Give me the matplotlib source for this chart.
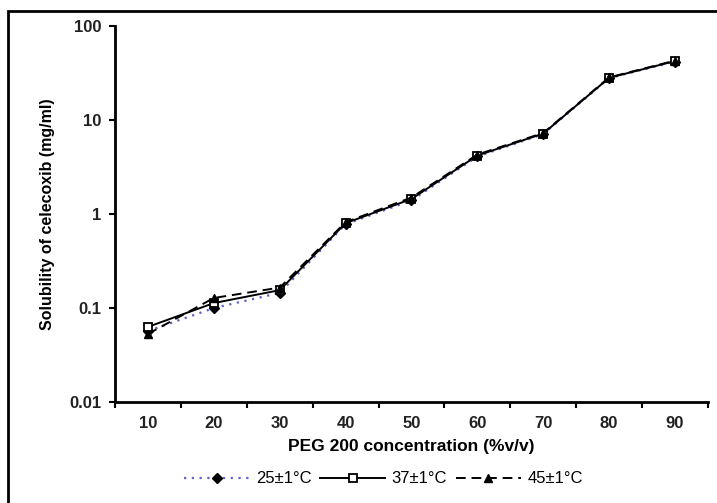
import numpy as np
import matplotlib.pyplot as plt
from matplotlib.patches import Rectangle

plt.rcParams['font.family'] = ['Liberation Sans', 'DejaVu Sans']

# Data
peg_conc = ['10', '20', '30', '40', '50', '60', '70', '80', '90']
sol_25 = [0.057, 0.100, 0.145, 0.78, 1.40, 4.1, 7.1, 28.0, 42.0]
sol_37 = [0.063, 0.113, 0.155, 0.80, 1.45, 4.2, 7.2, 28.2, 42.5]
sol_45 = [0.053, 0.128, 0.165, 0.82, 1.50, 4.3, 7.3, 28.5, 43.0]
y_ticks = [0.01, 0.1, 1, 10, 100]
y_ticklabels = ['0.01', '0.1', '1', '10', '100']

fig = plt.figure(figsize=(7.17, 5.03), dpi=100)
ax = fig.add_axes([0.1604, 0.2008, 0.827, 0.7472])

x = np.arange(len(peg_conc))
ax.plot(x, sol_25, linestyle=(0, (1, 2.5)), color='#6060c8', linewidth=1.6,
        marker='D', markersize=5, markerfacecolor='black', markeredgecolor='black',
        label='25\u00b11\u00b0C', zorder=3)
ax.plot(x, sol_37, linestyle='-', color='black', linewidth=1.4,
        marker='s', markersize=6, markerfacecolor='white', markeredgecolor='black',
        markeredgewidth=1.3, label='37\u00b11\u00b0C', zorder=4)
ax.plot(x, sol_45, linestyle=(0, (5, 3)), color='black', linewidth=1.4,
        marker='^', markersize=6, markerfacecolor='black', markeredgecolor='black',
        label='45\u00b11\u00b0C', zorder=5)

ax.set_yscale('log')
ax.set_ylim(0.01, 100)
ax.set_yticks(y_ticks)
ax.set_yticklabels(y_ticklabels, fontweight='bold', fontsize=12)
ax.yaxis.set_minor_locator(plt.NullLocator())

ax.set_xlim(-0.5, len(peg_conc) - 0.5)
ax.set_xticks(x)
ax.set_xticklabels(peg_conc, fontweight='bold', fontsize=12)
ax.set_xticks(np.arange(-0.5, len(peg_conc)), minor=True)
ax.tick_params(axis='x', which='major', length=0, pad=10, labelcolor='#222222')
ax.tick_params(axis='x', which='minor', length=4, width=1.5, direction='out')
ax.tick_params(axis='y', which='major', length=4, width=1.5, direction='out',
               pad=6, labelcolor='#222222')

for side in ['top', 'right']:
    ax.spines[side].set_visible(False)
for side in ['left', 'bottom']:
    ax.spines[side].set_linewidth(2)

ax.set_xlabel('PEG 200 concentration (%v/v)', fontsize=12.5, fontweight='bold', labelpad=6)
ax.set_ylabel('Solubility of celecoxib (mg/ml)', fontsize=11.5, fontweight='bold')
ax.yaxis.set_label_coords(-0.102, 0.5)

fig.legend(loc='center', bbox_to_anchor=(0.535, 0.048), ncol=3, frameon=False,
           fontsize=12, handlelength=3.9, columnspacing=0.5, handletextpad=0.4)

fig.patches.append(Rectangle((0.011, -0.1), 1.1, 1.078, transform=fig.transFigure,
                             fill=False, edgecolor='black', linewidth=2, clip_on=False))

fig.savefig('out.png', dpi=100)
